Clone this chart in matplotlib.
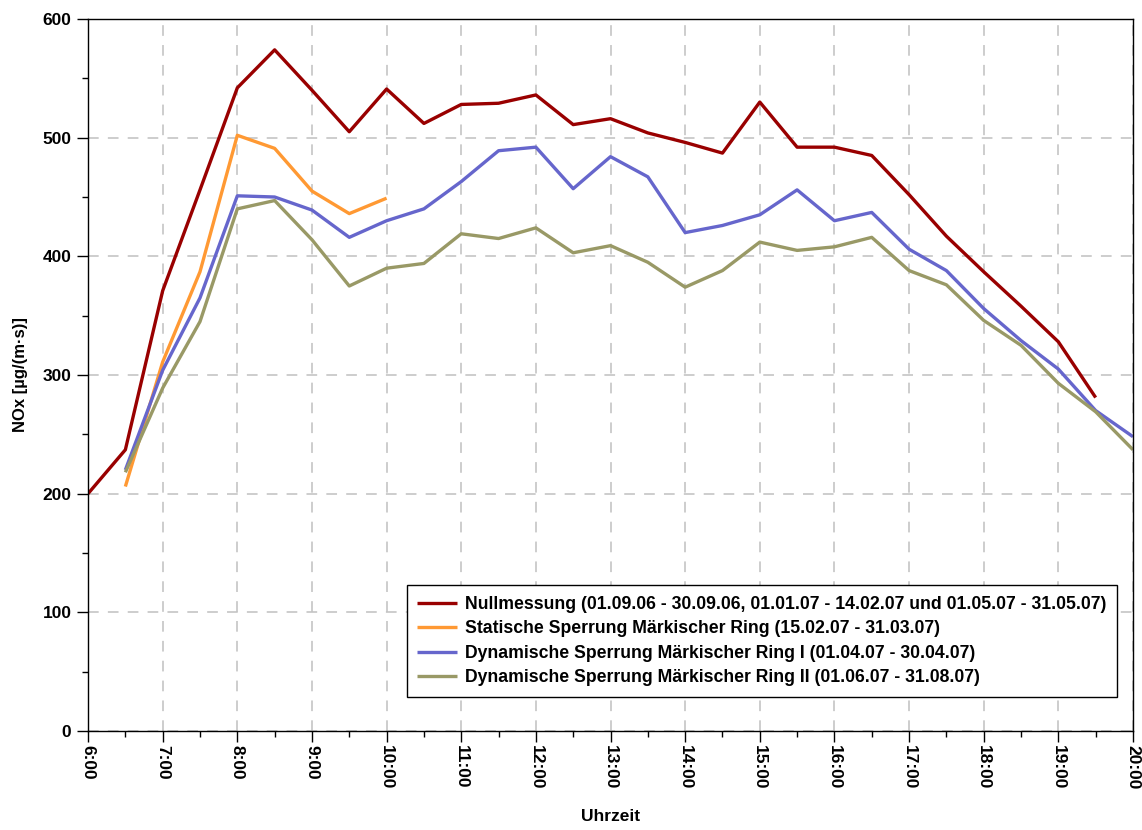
#!/usr/bin/env python3
import numpy as np
import matplotlib
matplotlib.use('Agg')
import matplotlib.pyplot as plt
from matplotlib.ticker import MultipleLocator

nan = np.nan

# Half-hour time steps 6:00 ... 20:00
times = ['6:00', '6:30', '7:00', '7:30', '8:00', '8:30', '9:00', '9:30',
         '10:00', '10:30', '11:00', '11:30', '12:00', '12:30', '13:00', '13:30',
         '14:00', '14:30', '15:00', '15:30', '16:00', '16:30', '17:00', '17:30',
         '18:00', '18:30', '19:00', '19:30', '20:00']

null_vals = [200, 237, 371, 456, 542, 574, 540, 505,
             541, 512, 528, 529, 536, 511, 516, 504,
             496, 487, 530, 492, 492, 485, 452, 417,
             387, 358, 328, 281, nan]
static_vals = [nan, 206, 311, 387, 502, 491, 455, 436,
               449, nan, nan, nan, nan, nan, nan, nan,
               nan, nan, nan, nan, nan, nan, nan, nan,
               nan, nan, nan, nan, nan]
dyn1_vals = [nan, 220, 304, 365, 451, 450, 439, 416,
             430, 440, 463, 489, 492, 457, 484, 467,
             420, 426, 435, 456, 430, 437, 406, 388,
             356, 329, 305, 270, 248]
dyn2_vals = [nan, 218, 289, 345, 440, 447, 414, 375,
             390, 394, 419, 415, 424, 403, 409, 395,
             374, 388, 412, 405, 408, 416, 388, 376,
             346, 325, 293, 269, 237]

labels = ['Nullmessung (01.09.06 - 30.09.06, 01.01.07 - 14.02.07 und 01.05.07 - 31.05.07)',
          'Statische Sperrung Märkischer Ring (15.02.07 - 31.03.07)',
          'Dynamische Sperrung Märkischer Ring I (01.04.07 - 30.04.07)',
          'Dynamische Sperrung Märkischer Ring II (01.06.07 - 31.08.07)']
colors = ['#990000', '#FF9933', '#6666CC', '#999966']

hour_labels = ['%d:00' % h for h in range(6, 21)]


def to_hours(t):
    h, m = t.split(':')
    return int(h) + int(m) / 60.0


def main():
    plt.rcParams['font.family'] = ['Liberation Sans', 'DejaVu Sans']
    plt.rcParams['font.weight'] = 'bold'

    fig = plt.figure(figsize=(11.42, 8.30), dpi=100)
    ax = fig.add_axes([0.0771, 0.1193, 0.915, 0.8578])

    x = [to_hours(t) for t in times]
    for vals, col, lab in zip([null_vals, static_vals, dyn1_vals, dyn2_vals], colors, labels):
        ax.plot(x, vals, color=col, lw=2.4, label=lab, solid_capstyle='butt')

    ax.set_xlim(6, 20)
    ax.set_ylim(0, 600)
    ax.set_xticks(range(6, 21))
    ax.set_xticklabels(hour_labels, rotation=-90, fontsize=12.5, fontweight='bold')
    ax.xaxis.set_minor_locator(MultipleLocator(0.5))
    ax.yaxis.set_major_locator(MultipleLocator(100))
    ax.yaxis.set_minor_locator(MultipleLocator(50))
    for lab in ax.get_yticklabels():
        lab.set_fontsize(12.5)
        lab.set_fontweight('bold')

    ax.tick_params(which='major', direction='out', length=8, width=1, pad=4)
    ax.tick_params(which='minor', direction='out', length=4, width=1)
    ax.tick_params(axis='x', which='major', pad=2)

    ax.grid(True, which='major', color='#C0C0C0', lw=1.1, linestyle=(0, (7, 6)))
    ax.set_axisbelow(True)
    for sp in ax.spines.values():
        sp.set_color('black')
        sp.set_linewidth(1)

    ax.set_ylabel('NOx [µg/(m·s)]', fontsize=12, fontweight='bold', labelpad=10)
    ax.set_xlabel('Uhrzeit', fontsize=12.5, fontweight='bold', labelpad=14)

    leg = ax.legend(loc='lower right', bbox_to_anchor=(0.985, 0.048), fontsize=12.7,
                    frameon=True, fancybox=False, edgecolor='black', framealpha=1,
                    handlelength=2.27, handletextpad=0.45, labelspacing=0.42,
                    borderpad=0.6, borderaxespad=0)
    leg.get_frame().set_linewidth(1)
    for t in leg.get_texts():
        t.set_fontweight('bold')

    plt.savefig('out.png', dpi=100)


if __name__ == "__main__":
    main()
